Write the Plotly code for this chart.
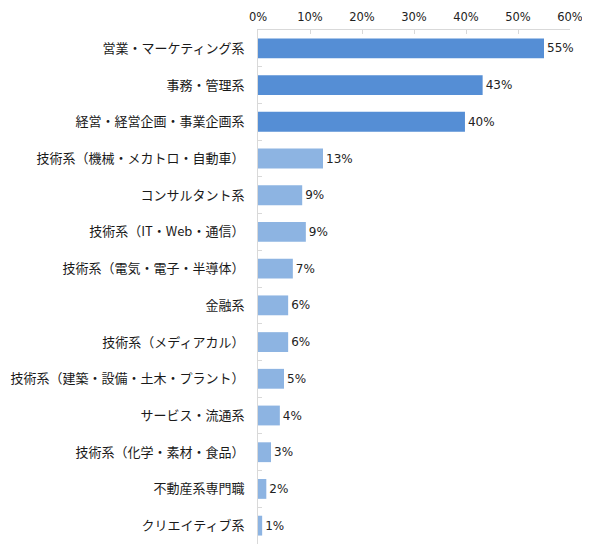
import plotly.graph_objects as go

categories = [
    "営業・マーケティング系",
    "事務・管理系",
    "経営・経営企画・事業企画系",
    "技術系（機械・メカトロ・自動車）",
    "コンサルタント系",
    "技術系（IT・Web・通信）",
    "技術系（電気・電子・半導体）",
    "金融系",
    "技術系（メディアカル）",
    "技術系（建築・設備・土木・プラント）",
    "サービス・流通系",
    "技術系（化学・素材・食品）",
    "不動産系専門職",
    "クリエイティブ系",
]
values = [55.0, 43.2, 39.8, 12.5, 8.5, 9.2, 6.7, 5.8, 5.8, 5.0, 4.2, 2.5, 1.6, 0.8]
value_labels = ["55%", "43%", "40%", "13%", "9%", "9%", "7%", "6%", "6%", "5%", "4%", "3%", "2%", "1%"]
x_ticks = [0, 10, 20, 30, 40, 50, 60]

dark = "#558ED5"
light = "#8DB4E2"
colors = [dark if i < 3 else light for i in range(len(categories))]

fig = go.Figure(go.Bar(
    x=values,
    y=categories,
    orientation="h",
    marker=dict(color=colors, line=dict(width=0)),
    text=value_labels,
    textposition="outside",
    textfont=dict(family="DejaVu Sans", size=12, color="#222222"),
    cliponaxis=False,
))

# the page body adds an 8px margin, so the figure is a bit smaller
fig.update_layout(
    width=582,
    height=538,
    margin=dict(l=250, r=20, t=22, b=2),
    paper_bgcolor="white",
    plot_bgcolor="white",
    bargap=0.46,
    showlegend=False,
    font=dict(family="Noto Sans CJK JP", size=13, color="#1a1a1a"),
)
fig.update_xaxes(
    side="top",
    range=[0, 60],
    tickvals=x_ticks,
    ticktext=[f"{t}%" for t in x_ticks],
    tickfont=dict(family="DejaVu Sans", size=11.5, color="#222222"),
    showgrid=False,
    zeroline=False,
    showline=True,
    linecolor="#D9D9D9",
    ticks="inside",
    ticklen=4,
    tickcolor="#D9D9D9",
    ticklabelstandoff=3,
    automargin=False,
)
fig.update_yaxes(
    autorange="reversed",
    showgrid=False,
    showline=True,
    linecolor="#D9D9D9",
    ticks="inside",
    tickson="boundaries",
    ticklen=4,
    tickcolor="#D9D9D9",
    ticklabelstandoff=10,
    automargin=False,
)

fig.write_html("out.html")
